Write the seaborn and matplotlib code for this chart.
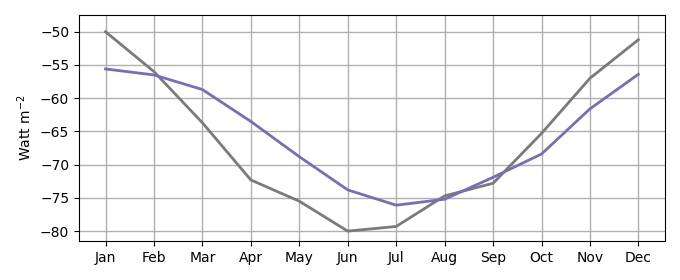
import matplotlib
matplotlib.use("Agg")
import matplotlib.pyplot as plt
import seaborn as sns
import pandas as pd

months = ["Jan", "Feb", "Mar", "Apr", "May", "Jun", "Jul", "Aug", "Sep", "Oct", "Nov", "Dec"]
grey_series = [-50.0, -56.0, -63.7, -72.3, -75.5, -80.0, -79.3, -74.7, -72.8, -65.3, -57.0, -51.2]
purple_series = [-55.6, -56.5, -58.7, -63.5, -68.8, -73.8, -76.1, -75.2, -71.9, -68.4, -61.6, -56.4]

df = pd.DataFrame({"month": months, "grey": grey_series, "purple": purple_series})
df["x"] = range(len(months))

fig, ax = plt.subplots(figsize=(6.8, 2.8), dpi=100)
sns.lineplot(data=df, x="x", y="grey", ax=ax, color="#7a7a7a", linewidth=2)
sns.lineplot(data=df, x="x", y="purple", ax=ax, color="#7570b3", linewidth=2)
ax.set_xticks(df["x"])
ax.set_xticklabels(months)
ax.set_xlabel("")
ax.set_ylabel("Watt m$^{-2}$")
ax.set_xlim(-0.55, 11.55)
ax.set_ylim(-81.5, -47.5)
ax.set_yticks([-80, -75, -70, -65, -60, -55, -50])
ax.grid(True, color="#b0b0b0", linewidth=1)
ax.set_axisbelow(True)
fig.subplots_adjust(left=0.116, right=0.978, top=0.946, bottom=0.139)
fig.savefig("out.png", dpi=100)
